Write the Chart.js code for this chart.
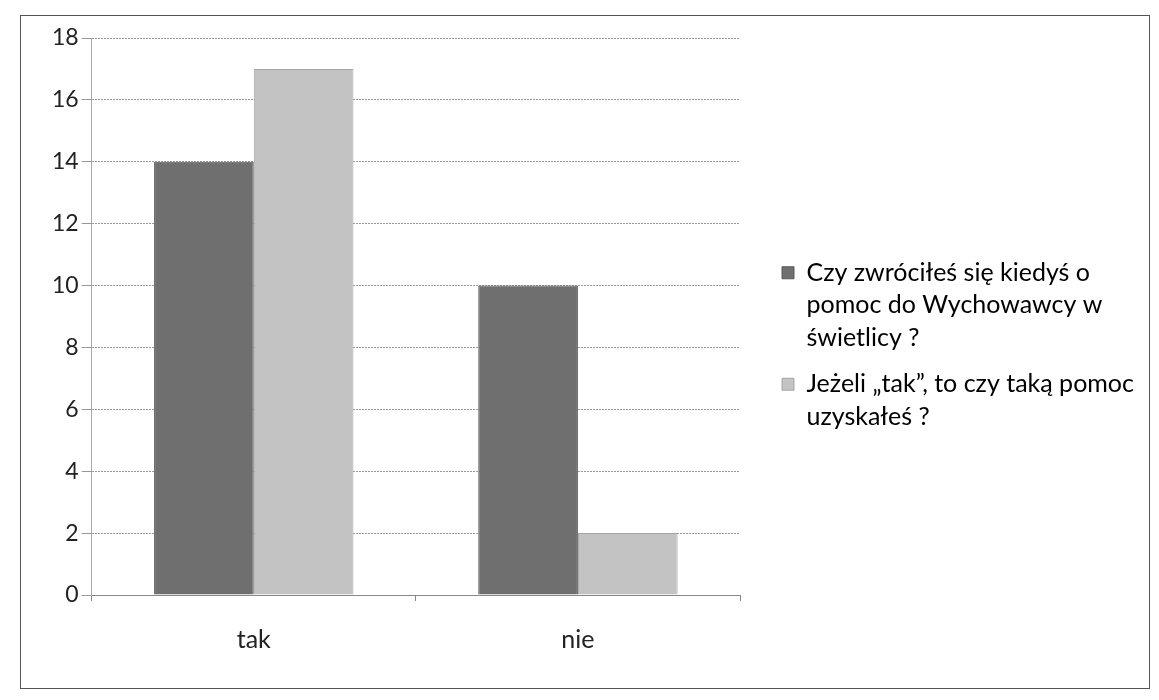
<!DOCTYPE html>
<html>
<head>
<meta charset="utf-8">
<script src="https://cdn.jsdelivr.net/npm/chart.js@4/dist/chart.umd.min.js"></script>
<style>
  html, body { margin: 0; padding: 0; background: #fff; }
  #frame { position: absolute; left: 20px; top: 15px; width: 1128px; height: 672px; border: 1px solid #555; background: #fff; }
  #frame canvas { display: block; }
</style>
</head>
<body>
<div id="frame"><canvas id="c" width="1128" height="672"></canvas></div>
<script>
const categories = ["tak", "nie"];
const seriesLabels = [
  ["Czy zwróciłeś się kiedyś o", "pomoc do Wychowawcy w", "świetlicy ?"],
  ["Jeżeli „tak”, to czy taką pomoc", "uzyskałeś ?"]
];
const seriesA = [14, 10];
const seriesB = [17, 2];
const yTicks = [0, 2, 4, 6, 8, 10, 12, 14, 16, 18];

const FONT = "Lato, 'Open Sans', sans-serif";
const LEGEND_WIDTH = 409;
const LEGEND_SHIFT = 28;
const LEGEND_LIFT = 10;

const legendSizer = {
  id: 'legendSizer',
  beforeLayout(chart) {
    const lg = chart.legend;
    if (lg && !lg._sized) {
      const origFit = lg.fit.bind(lg);
      lg.fit = function () { origFit(); this.width = LEGEND_WIDTH; };
      lg._sized = true;
    }
  },
  afterLayout(chart) {
    const lg = chart.legend;
    if (lg) {
      lg.left += LEGEND_SHIFT; lg.right += LEGEND_SHIFT;
      lg.top -= LEGEND_LIFT; lg.bottom -= LEGEND_LIFT;
    }
  }
};

new Chart(document.getElementById('c'), {
  type: 'bar',
  data: {
    labels: categories,
    datasets: [
      { label: seriesLabels[0].join(' '), data: seriesA, backgroundColor: '#6f6f6f', borderColor: '#5a5a5a', borderWidth: 1 },
      { label: seriesLabels[1].join(' '), data: seriesB, backgroundColor: '#c3c3c3', borderColor: '#a5a5a5', borderWidth: 1 }
    ]
  },
  plugins: [legendSizer],
  options: {
    responsive: false,
    animation: false,
    layout: { padding: { left: 28, right: 0, top: 22, bottom: 9 } },
    datasets: { bar: { categoryPercentage: 0.615, barPercentage: 1.0 } },
    scales: {
      x: {
        grid: { display: true, drawOnChartArea: false, offset: true, tickLength: 6, color: '#888' },
        border: { display: true, color: '#888' },
        ticks: { color: '#222', font: { family: FONT, size: 25 }, padding: 24 }
      },
      y: {
        min: 0, max: 18,
        afterBuildTicks: (axis) => { axis.ticks = yTicks.map(v => ({ value: v })); },
        grid: { color: '#999', tickLength: 10 },
        border: { display: true, color: '#aaa', dash: [2, 1] },
        ticks: { color: '#222', font: { family: FONT, size: 23 }, padding: 3 }
      }
    },
    plugins: {
      legend: {
        position: 'right',
        align: 'center',
        labels: {
          font: { family: FONT, size: 25, lineHeight: 1.3 },
          color: '#222',
          boxWidth: 12, boxHeight: 12,
          padding: 14,
          generateLabels: (chart) => chart.data.datasets.map((ds, i) => ({
            text: seriesLabels[i],
            fillStyle: ds.backgroundColor,
            strokeStyle: ds.borderColor,
            lineWidth: 1,
            datasetIndex: i,
            hidden: false
          }))
        }
      },
      tooltip: { enabled: false }
    }
  }
});
</script>
</body>
</html>
